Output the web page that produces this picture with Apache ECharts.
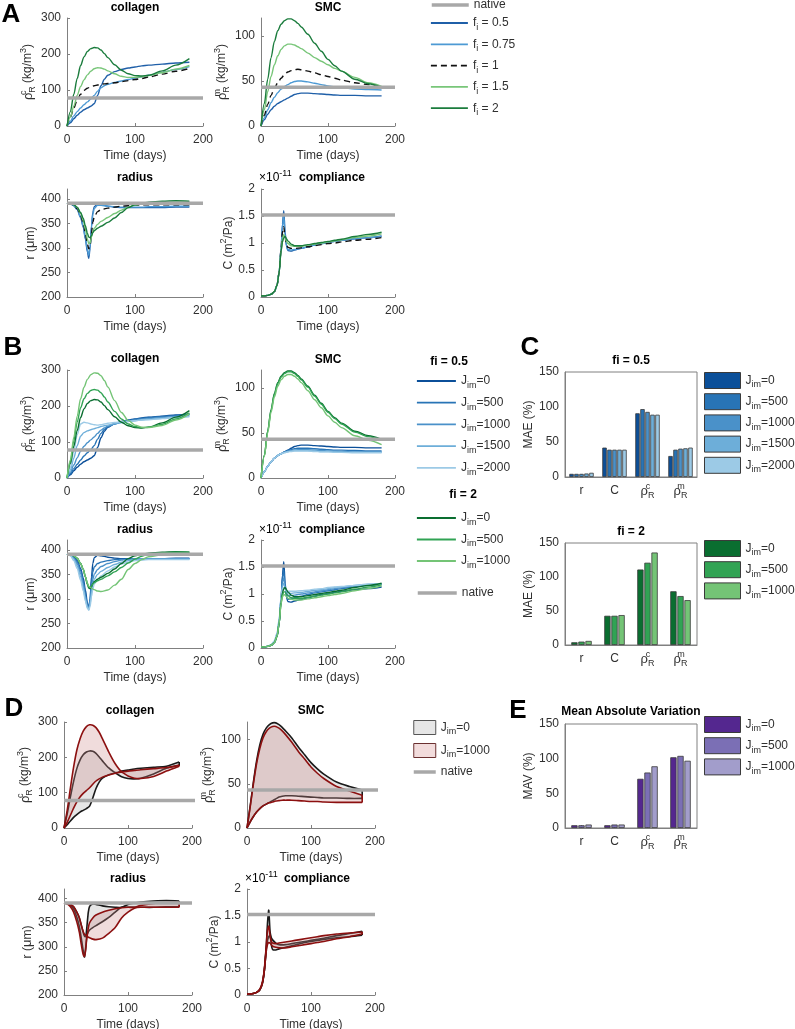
<!DOCTYPE html>
<html lang="en">
<head>
<meta charset="UTF-8">
<title>fi / Jim sensitivity</title>
<script src="https://cdn.jsdelivr.net/npm/echarts@6/dist/echarts.min.js"></script>
<style>html,body{margin:0;padding:0;background:#fff;}</style>
</head>
<body>
<div id="main" style="width:795px;height:1029px;"></div>
<script>
// ---- time bases (days) ----
var tDens = [0,5,10,15,20,25,30,35,40,45,50,55,60,70,80,90,100,110,120,140,160,180];
var tMech = [0,5,10,15,20,24,27,30,32,34,36,38,40,45,50,60,70,80,90,100,110,120,140,160,180];

// ---- native reference values ----
var nativeCol = 78, nativeSmc = 43, nativeRad = 391, nativeCmp = 1.52;

// ---- A: f_i sweep (collagen, SMC on tDens; radius, compliance on tMech) ----
var colA_05  = [0,9,20,30,38,45,50,55,62,85,112,130,141,151,157,161,164,167,169,172,175,177];
var colA_075 = [0,13,28,40,50,59,67,75,85,97,106,112,116,121,125,129,133,137,141,149,157,165];
var colA_1   = [0,25,50,72,88,99,105,109,112,114,116,117,118,120,123,126,129,132,136,144,152,160];
var colA_15  = [0,25,55,85,110,128,142,152,159,162,161,158,153,145,138,135,135,137,140,148,158,168];
var colA_2   = [0,40,88,132,168,192,207,215,218,217,211,201,190,170,155,145,140,139,141,153,169,187];

var smcA_05  = [0,7,13,18,22,25,27,29,31,33,35,36,36.5,36.5,36,35.5,35,34.5,34,34,33.5,33.5];
var smcA_075 = [0,9,18,26,32,37,41,44,46,48,49.5,50,50,49,47.5,46,44.5,43.5,42.5,41,40.5,40];
var smcA_1   = [0,12,24,34,42,48,53,57,60,61.5,62.5,63,62.5,61,59,57,55,53,51,48,46,44];
var smcA_15  = [0,18,38,55,68,78,85,89,91,91,90,88,86,81,76,72,68,64,61,54,48,44];
var smcA_2   = [0,25,52,76,94,106,113,117,119,119,117,114,110,102,92,83,74,67,61,52,47,43];

var radA_05  = [391,390,386,378,362,342,318,292,279,300,345,372,384,389,388,385,383,382,382,382,382,382,382,383,383];
var radA_075 = [391,390,386,378,363,344,321,297,285,303,342,368,380,387,387,385,384,383,383,383,383,384,384,385,385];
var radA_1   = [391,390,387,380,366,350,330,308,298,305,330,352,363,374,378,381,383,385,386,387,388,388,388,388,388];
var radA_15  = [391,390,388,382,370,356,338,318,309,310,322,333,340,348,354,362,370,377,383,387,390,391,392,393,393];
var radA_2   = [391,390,388,383,372,360,345,330,322,321,325,331,335,340,344,352,361,372,382,388,391,393,395,396,395];

var cmpA_05  = [0.02,0.02,0.03,0.05,0.1,0.22,0.45,0.9,1.35,1.6,1.2,0.95,0.86,0.85,0.87,0.9,0.93,0.96,0.99,1.01,1.03,1.05,1.08,1.1,1.13];
var cmpA_075 = [0.02,0.02,0.03,0.05,0.1,0.22,0.45,0.9,1.3,1.5,1.15,0.95,0.88,0.87,0.88,0.9,0.93,0.96,0.99,1.01,1.03,1.05,1.08,1.1,1.12];
var cmpA_1   = [0.02,0.02,0.03,0.05,0.1,0.22,0.45,0.88,1.2,1.3,1.1,0.97,0.92,0.9,0.9,0.91,0.93,0.95,0.97,0.99,1.0,1.02,1.05,1.07,1.1];
var cmpA_15  = [0.02,0.02,0.03,0.05,0.1,0.22,0.45,0.86,1.08,1.16,1.1,1.03,0.99,0.95,0.94,0.94,0.96,0.98,1.0,1.02,1.04,1.06,1.1,1.13,1.17];
var cmpA_2   = [0.02,0.02,0.03,0.05,0.1,0.22,0.45,0.85,1.02,1.1,1.12,1.08,1.04,0.98,0.95,0.95,0.97,0.99,1.01,1.03,1.05,1.07,1.12,1.16,1.2];

// ---- B: J_im sweep (Jim=0 curves are the fi=0.5 / fi=2 curves of A) ----
var colB_b500  = [0,12,26,38,50,61,70,79,90,108,124,135,142,150,156,160,163,166,168,171,174,177];
var colB_b1000 = [0,16,36,56,74,88,98,106,114,124,133,139,144,150,155,158,161,163,165,168,171,175];
var colB_b1500 = [0,22,55,90,116,126,131,134,137,140,143,145,147,151,154,157,159,161,163,166,169,172];
var colB_b2000 = [0,30,75,120,150,155,153,150,148,147,148,150,152,154,156,158,159,161,162,165,168,170];
var colB_g500  = [0,45,103,155,195,220,235,243,246,244,237,225,211,185,164,150,143,140,141,149,164,181];
var colB_g1000 = [0,50,113,172,220,252,274,287,292,291,284,271,253,215,182,160,147,141,140,146,161,178];

var smcB_b500  = [0,7,13,18,22,25,27,29,30.5,31.5,32.5,33,33,33,32.5,32,31.5,31,31,30.5,30,30];
var smcB_b1000 = [0,7,13,18,22,25,27,28.5,29.5,30.5,31,31.5,31.5,31.5,31,30.5,30,30,29.5,29,29,29];
var smcB_b1500 = [0,7,13,18,22,25,27,28.5,29.5,30,30.5,30.5,30.5,30.5,30,29.5,29.5,29,29,28.5,28.5,28.5];
var smcB_b2000 = [0,7,13,18,22,25,27,28,29,29.5,30,30,30,30,29.5,29,29,28.5,28.5,28,28,28];
var smcB_g500  = [0,25,52,75,93,105,112,116,118,118,116,113,109,101,91,82,73,66,60,51,46,42];
var smcB_g1000 = [0,24,50,73,90,102,109,113,115,115,113,110,106,97,87,78,69,62,56,47,42,37];

var radB_b500  = [391,390,385,376,358,336,310,287,280,300,335,355,365,372,375,378,380,381,381,382,382,382,382,382,382];
var radB_b1000 = [391,389,383,372,352,330,305,284,280,295,322,340,350,360,366,372,376,379,381,382,382,382,382,382,382];
var radB_b1500 = [391,389,381,367,345,322,300,283,279,290,312,330,340,350,356,364,370,375,378,380,381,381,381,381,381];
var radB_b2000 = [391,388,378,362,338,316,296,281,277,285,305,320,330,340,347,357,365,371,375,378,379,380,380,380,380];
var radB_g500  = [391,390,388,383,372,360,345,331,324,323,326,330,333,337,340,347,355,364,373,381,387,391,394,395,395];
var radB_g1000 = [391,390,388,383,372,360,345,332,326,324,322,320,319,316,315,318,328,340,360,372,380,386,390,392,392];

var cmpB_b500  = [0.02,0.02,0.03,0.05,0.1,0.22,0.45,0.9,1.3,1.45,1.15,0.97,0.9,0.91,0.93,0.96,0.99,1.02,1.04,1.06,1.08,1.1,1.13,1.16,1.18];
var cmpB_b1000 = [0.02,0.02,0.03,0.05,0.11,0.24,0.48,0.92,1.22,1.3,1.12,1.02,0.98,0.97,0.98,1.0,1.02,1.04,1.06,1.08,1.1,1.12,1.15,1.17,1.19];
var cmpB_b1500 = [0.02,0.02,0.03,0.06,0.12,0.26,0.5,0.93,1.15,1.2,1.1,1.05,1.02,1.01,1.02,1.03,1.05,1.07,1.08,1.1,1.12,1.13,1.16,1.18,1.19];
var cmpB_b2000 = [0.02,0.02,0.03,0.06,0.13,0.28,0.53,0.95,1.1,1.12,1.08,1.06,1.05,1.05,1.05,1.06,1.07,1.09,1.1,1.12,1.13,1.14,1.16,1.18,1.19];
var cmpB_g500  = [0.02,0.02,0.03,0.05,0.1,0.22,0.45,0.84,0.98,1.04,1.04,1.0,0.97,0.93,0.92,0.92,0.94,0.96,0.98,1.0,1.02,1.04,1.09,1.13,1.17];
var cmpB_g1000 = [0.02,0.02,0.03,0.05,0.1,0.22,0.45,0.82,0.95,0.99,0.98,0.95,0.92,0.9,0.89,0.89,0.91,0.93,0.95,0.97,0.99,1.01,1.06,1.1,1.15];

// ---- C / E: bar values (r, C, rho_c, rho_m) ----
var barCats = ['r', 'C', 'rhoc', 'rhom'];
var mae05_j0    = [4.5, 42, 91, 30];
var mae05_j500  = [4.5, 39, 97, 39];
var mae05_j1000 = [4.5, 39, 93, 40.5];
var mae05_j1500 = [5, 39, 89, 41];
var mae05_j2000 = [6, 39, 89, 42];
var mae2_j0     = [4, 43, 111, 79];
var mae2_j500   = [5, 43, 121, 72];
var mae2_j1000  = [6, 44, 136, 66];
var mav_j0      = [4, 4, 71, 102];
var mav_j500    = [4, 5, 80, 104];
var mav_j1000   = [5, 5, 89, 97];

// ---- styling ----
var FONT = 'Liberation Sans';
var FCSS = '"Liberation Sans", Arial, sans-serif';
var AX = '#808080', TXT = '#303030', NAT = '#a8a8a8';
var BLUES = ['#0b4f99', '#2874b6', '#4a91c9', '#6daed9', '#9ccae6'];
var GREENS = ['#0a6e30', '#31a354', '#74c476'];
var PURP = ['#54278f', '#7b6fb5', '#a29dcb'];

var RICH = {
  n: {fontFamily: FONT, fontSize: 12, color: TXT, lineHeight: 18},
  g: {fontFamily: FONT, fontSize: 13, color: TXT, lineHeight: 18},
  s: {fontFamily: FONT, fontSize: 9, color: TXT, lineHeight: 10, verticalAlign: 'bottom'},
  p: {fontFamily: FONT, fontSize: 9, color: TXT, lineHeight: 10, verticalAlign: 'top'},
  p0: {fontFamily: FONT, fontSize: 9, color: TXT, lineHeight: 10, verticalAlign: 'top', width: 0}
};

var legendText = {
  'native': '{n|native}',
  A05: '{n|f}{s|i}{n| = 0.5}', A075: '{n|f}{s|i}{n| = 0.75}', A1: '{n|f}{s|i}{n| = 1}',
  A15: '{n|f}{s|i}{n| = 1.5}', A2: '{n|f}{s|i}{n| = 2}',
  B0: '{n|J}{s|im}{n|=0}', B500: '{n|J}{s|im}{n|=500}', B1000: '{n|J}{s|im}{n|=1000}',
  B1500: '{n|J}{s|im}{n|=1500}', B2000: '{n|J}{s|im}{n|=2000}',
  G0: '{n|J}{s|im}{n|=0}', G500: '{n|J}{s|im}{n|=500}', G1000: '{n|J}{s|im}{n|=1000}',
  C0: '{n|J}{s|im}{n|=0}', C500: '{n|J}{s|im}{n|=500}', C1000: '{n|J}{s|im}{n|=1000}',
  C1500: '{n|J}{s|im}{n|=1500}', C2000: '{n|J}{s|im}{n|=2000}',
  CG0: '{n|J}{s|im}{n|=0}', CG500: '{n|J}{s|im}{n|=500}', CG1000: '{n|J}{s|im}{n|=1000}',
  D0: '{n|J}{s|im}{n|=0}', D1000: '{n|J}{s|im}{n|=1000}',
  E0: '{n|J}{s|im}{n|=0}', E500: '{n|J}{s|im}{n|=500}', E1000: '{n|J}{s|im}{n|=1000}'
};
var catText = {r: '{n|r}', C: '{n|C}', rhoc: '{g|ρ}{p0|c}{s|R}', rhom: '{g|ρ}{p0|m}{s|R}'};

var yNames = {
  col: '{g|ρ}{p0|c}{s|R}{n| (kg/m}{p|3}{n|)}',
  smc: '{g|ρ}{p0|m}{s|R}{n| (kg/m}{p|3}{n|)}',
  rad: '{n|r (}{g|μ}{n|m)}',
  cmp: '{n|C (m}{p|2}{n|/Pa)}'
};
var yRange = {
  col: [0, 300, 100, 26], smc: [0, 120, 50, 27], rad: [200, 420, 50, 22], cmp: [0, 2, 0.5, 22]
};

// ---- layout ----
var grids = [
  {left: 67, top: 18, width: 136, height: 108},
  {left: 261, top: 18, width: 134, height: 108},
  {left: 67, top: 189, width: 136, height: 108},
  {left: 261, top: 189, width: 134, height: 108},
  {left: 67, top: 370, width: 136, height: 108},
  {left: 261, top: 370, width: 134, height: 108},
  {left: 67, top: 540, width: 136, height: 108},
  {left: 261, top: 540, width: 134, height: 108},
  {left: 565, top: 372, width: 132, height: 105},
  {left: 565, top: 543, width: 132, height: 102},
  {left: 64, top: 722, width: 128, height: 106},
  {left: 247, top: 722, width: 128, height: 106},
  {left: 64, top: 889, width: 128, height: 106},
  {left: 247, top: 889, width: 128, height: 106},
  {left: 565, top: 724, width: 132, height: 104}
];
var kinds = ['col', 'smc', 'rad', 'cmp', 'col', 'smc', 'rad', 'cmp', 'bar', 'bar', 'col', 'smc', 'rad', 'cmp', 'bar'];
var barYName = {8: 'MAE (%)', 9: 'MAE (%)', 14: 'MAV (%)'};

grids.forEach(function (g, i) {
  g.outerBoundsMode = 'none';
  g.containLabel = false;
  if (kinds[i] === 'bar') { g.show = true; g.borderColor = AX; g.borderWidth = 1; }
});

var xAxes = [], yAxes = [];
kinds.forEach(function (k, i) {
  var line = {lineStyle: {color: AX, width: 1}};
  var tick = {inside: true, length: 3, lineStyle: {color: AX}};
  if (k === 'bar') {
    xAxes.push({type: 'category', gridIndex: i, data: barCats, axisLine: line,
      axisTick: {show: true, inside: true, length: 3, alignWithLabel: true, lineStyle: {color: AX}},
      axisLabel: {interval: 0, margin: 5, formatter: function (v) { return catText[v]; }, rich: RICH}});
    yAxes.push({type: 'value', gridIndex: i, min: 0, max: 150, interval: 50, splitLine: {show: false},
      axisLine: {show: true, lineStyle: {color: AX}}, axisTick: tick,
      axisLabel: {fontFamily: FONT, fontSize: 12, color: TXT, margin: 6},
      name: barYName[i], nameLocation: 'middle', nameGap: 27,
      nameTextStyle: {fontFamily: FONT, fontSize: 12, color: TXT}});
    return;
  }
  var r = yRange[k];
  xAxes.push({type: 'value', gridIndex: i, min: 0, max: 200, interval: 100, splitLine: {show: false},
    axisLine: line, axisTick: tick,
    axisLabel: {fontFamily: FONT, fontSize: 12, color: TXT, margin: 8},
    name: 'Time (days)', nameLocation: 'middle', nameGap: 24,
    nameTextStyle: {fontFamily: FONT, fontSize: 12, color: TXT}});
  yAxes.push({type: 'value', gridIndex: i, min: r[0], max: r[1], interval: r[2], splitLine: {show: false},
    axisLine: {show: true, lineStyle: {color: AX, width: 1}}, axisTick: tick,
    axisLabel: {fontFamily: FONT, fontSize: 12, color: TXT, margin: 6, showMaxLabel: (k === 'col' || k === 'cmp')},
    name: yNames[k], nameLocation: 'middle', nameGap: r[3],
    nameTextStyle: {rich: RICH}});
});

// ---- series ----
var series = [];
function pairs(t, v) { return t.map(function (x, i) { return [x, v[i]]; }); }
function addNative(gi, v, end) {
  series.push({type: 'line', name: 'native', xAxisIndex: gi, yAxisIndex: gi, data: [[0, v], [end || 200, v]],
    symbol: 'none', clip: !end, z: 3, silent: true, lineStyle: {color: NAT, width: 3.5}, itemStyle: {color: NAT}});
}
function addLines(gi, t, list, nativeVal) {
  list.forEach(function (l) {
    series.push({type: 'line', name: l[0], xAxisIndex: gi, yAxisIndex: gi, data: pairs(t, l[1]),
      symbol: 'none', smooth: 0.3, smoothMonotone: 'x', silent: true,
      lineStyle: {color: l[2], width: 1.4, type: l[3] || 'solid'}, itemStyle: {color: l[2]}});
  });
  addNative(gi, nativeVal);
}
function aSet(a, b, c, d, e) {
  return [['A05', a, '#1f5fa8'], ['A075', b, '#4d9ad4'], ['A1', c, '#111111', [6, 4]],
          ['A15', d, '#78c679'], ['A2', e, '#1b7c3d']];
}
function bSet(b0, b500, b1000, b1500, b2000, g0, g500, g1000) {
  return [['B0', b0, BLUES[0]], ['B500', b500, BLUES[1]], ['B1000', b1000, BLUES[2]],
          ['B1500', b1500, BLUES[3]], ['B2000', b2000, BLUES[4]],
          ['G0', g0, GREENS[0]], ['G500', g500, GREENS[1]], ['G1000', g1000, GREENS[2]]];
}

addLines(0, tDens, aSet(colA_05, colA_075, colA_1, colA_15, colA_2), nativeCol);
addLines(1, tDens, aSet(smcA_05, smcA_075, smcA_1, smcA_15, smcA_2), nativeSmc);
addLines(2, tMech, aSet(radA_05, radA_075, radA_1, radA_15, radA_2), nativeRad);
addLines(3, tMech, aSet(cmpA_05, cmpA_075, cmpA_1, cmpA_15, cmpA_2), nativeCmp);

addLines(4, tDens, bSet(colA_05, colB_b500, colB_b1000, colB_b1500, colB_b2000, colA_2, colB_g500, colB_g1000), nativeCol);
addLines(5, tDens, bSet(smcA_05, smcB_b500, smcB_b1000, smcB_b1500, smcB_b2000, smcA_2, smcB_g500, smcB_g1000), nativeSmc);
addLines(6, tMech, bSet(radA_05, radB_b500, radB_b1000, radB_b1500, radB_b2000, radA_2, radB_g500, radB_g1000), nativeRad);
addLines(7, tMech, bSet(cmpA_05, cmpB_b500, cmpB_b1000, cmpB_b1500, cmpB_b2000, cmpA_2, cmpB_g500, cmpB_g1000), nativeCmp);

// D: envelope between the fi=0.5 and fi=2 runs of one Jim, drawn through the grid's axes
function addBand(gi, t, name, a, b, lineColor, fill) {
  var lo = a.map(function (v, i) { return Math.min(v, b[i]); });
  var hi = a.map(function (v, i) { return Math.max(v, b[i]); });
  series.push({type: 'custom', name: name, xAxisIndex: gi, yAxisIndex: gi, coordinateSystem: 'cartesian2d',
    data: [[t[0], lo[0]]], silent: true, itemStyle: {color: fill},
    renderItem: function (params, api) {
      var up = t.map(function (x, i) { return api.coord([x, hi[i]]); });
      var dn = t.map(function (x, i) { return api.coord([x, lo[i]]); });
      return {type: 'group', children: [
        {type: 'polygon', shape: {points: up.concat(dn.slice().reverse()), smooth: 0.25}, style: {fill: fill, stroke: null}},
        {type: 'polyline', shape: {points: dn, smooth: 0.25}, style: {stroke: lineColor, lineWidth: 1.6, fill: null}},
        {type: 'polyline', shape: {points: up, smooth: 0.25}, style: {stroke: lineColor, lineWidth: 1.6, fill: null}},
        {type: 'line', shape: {x1: up[up.length - 1][0], y1: up[up.length - 1][1], x2: dn[dn.length - 1][0], y2: dn[dn.length - 1][1]},
          style: {stroke: lineColor, lineWidth: 1.6}}
      ]};
    }});
}
var FILL0 = 'rgba(200,200,200,0.45)', FILL1 = 'rgba(205,140,140,0.3)';
var BLK = '#1a1a1a', RED = '#8c1010';
[[10, tDens, colA_05, colA_2, colB_b1000, colB_g1000, nativeCol, 210],
 [11, tDens, smcA_05, smcA_2, smcB_b1000, smcB_g1000, nativeSmc, 210],
 [12, tMech, radA_05, radA_2, radB_b1000, radB_g1000, nativeRad, 0],
 [13, tMech, cmpA_05, cmpA_2, cmpB_b1000, cmpB_g1000, nativeCmp, 0]].forEach(function (d) {
  addBand(d[0], d[1], 'D0', d[2], d[3], BLK, FILL0);
  addBand(d[0], d[1], 'D1000', d[4], d[5], RED, FILL1);
  addNative(d[0], d[6], d[7] || 0);
});

function addBars(gi, list, catGap) {
  list.forEach(function (b) {
    series.push({type: 'bar', name: b[0], xAxisIndex: gi, yAxisIndex: gi, data: b[1],
      barGap: '12%', barCategoryGap: catGap, silent: true,
      itemStyle: {color: b[2], borderColor: '#3a3a3a', borderWidth: 0.8}});
  });
}
addBars(8, [['C0', mae05_j0, BLUES[0]], ['C500', mae05_j500, BLUES[1]], ['C1000', mae05_j1000, BLUES[2]],
            ['C1500', mae05_j1500, BLUES[3]], ['C2000', mae05_j2000, BLUES[4]]], '26%');
addBars(9, [['CG0', mae2_j0, GREENS[0]], ['CG500', mae2_j500, GREENS[1]], ['CG1000', mae2_j1000, GREENS[2]]], '38%');
addBars(14, [['E0', mav_j0, PURP[0]], ['E500', mav_j500, PURP[1]], ['E1000', mav_j1000, PURP[2]]], '38%');

// ---- legends ----
function legend(data, left, top, w, h, gap, extra) {
  var l = {data: data, left: left, top: top, orient: 'vertical', padding: 0, itemGap: gap,
    itemWidth: w, itemHeight: h, selectedMode: false,
    formatter: function (name) { return legendText[name]; },
    textStyle: {rich: RICH}};
  if (extra) { for (var k in extra) { l[k] = extra[k]; } }
  return l;
}
function boxItem(name, color, border) {
  return {name: name, icon: 'rect', itemStyle: {color: color, borderColor: border, borderWidth: 1, opacity: 1}};
}
var lineLeg = {itemStyle: {opacity: 0}, lineStyle: {width: 1.8}};
var natLeg = {itemStyle: {opacity: 0}, lineStyle: {width: 3.5}};
var legends = [
  legend(['native'], 430, -1, 37, 12, 3, natLeg),
  legend(['A05', 'A075', 'A1', 'A15', 'A2'], 430, 17, 37, 12, 6.3, lineLeg),
  legend(['B0', 'B500', 'B1000', 'B1500', 'B2000'], 416, 375, 39, 12, 6.7, lineLeg),
  legend(['G0', 'G500', 'G1000'], 416, 512, 39, 12, 6.5, lineLeg),
  legend(['native'], 416, 587, 39, 12, 3, natLeg),
  legend([boxItem('C0', BLUES[0], '#3a3a3a'), boxItem('C500', BLUES[1], '#3a3a3a'), boxItem('C1000', BLUES[2], '#3a3a3a'),
          boxItem('C1500', BLUES[3], '#3a3a3a'), boxItem('C2000', BLUES[4], '#3a3a3a')], 704, 372, 36, 16, 3.7),
  legend([boxItem('CG0', GREENS[0], '#3a3a3a'), boxItem('CG500', GREENS[1], '#3a3a3a'), boxItem('CG1000', GREENS[2], '#3a3a3a')], 704, 540, 36, 16, 3.7),
  legend([boxItem('D0', '#e6e6e6', '#555555'), boxItem('D1000', '#f2dcdc', '#6b3030'),
          {name: 'native', itemStyle: {opacity: 0}, lineStyle: {width: 3.5}}], 412, 720, 22, 14, 6.5),
  legend([boxItem('E0', PURP[0], '#3a3a3a'), boxItem('E500', PURP[1], '#3a3a3a'), boxItem('E1000', PURP[2], '#3a3a3a')], 704, 716, 36, 16, 3.7)
];

// ---- text: panel letters, titles, headers ----
function gtext(x, y, text, size, bold, align) {
  return {type: 'text', x: x, y: y, silent: true, z: 10,
    style: {text: text, fill: '#000', font: (bold ? 'bold ' : '') + size + 'px ' + FCSS,
      align: align || 'center', verticalAlign: 'middle', rich: RICH}};
}
var expLabel = '{n|×10}{p|-11}';
var graphics = [
  gtext(11, 15, 'A', 26, true), gtext(13, 348, 'B', 26, true), gtext(530, 348, 'C', 26, true),
  gtext(14, 709, 'D', 26, true), gtext(518, 711, 'E', 26, true),
  gtext(135, 8, 'collagen', 12, true), gtext(328, 8, 'SMC', 12, true),
  gtext(135, 178, 'radius', 12, true), gtext(332, 178, 'compliance', 12, true),
  gtext(135, 359, 'collagen', 12, true), gtext(328, 360, 'SMC', 12, true),
  gtext(135, 530, 'radius', 12, true), gtext(332, 530, 'compliance', 12, true),
  gtext(130, 711, 'collagen', 12, true), gtext(311, 711, 'SMC', 12, true),
  gtext(128, 879, 'radius', 12, true), gtext(317, 879, 'compliance', 12, true),
  gtext(259, 178, expLabel, 12, false, 'left'), gtext(259, 530, expLabel, 12, false, 'left'),
  gtext(245, 879, expLabel, 12, false, 'left'),
  gtext(449, 362, 'fi = 0.5', 12, true), gtext(463, 495, 'fi = 2', 12, true),
  gtext(631, 361, 'fi = 0.5', 12, true), gtext(631, 532, 'fi = 2', 12, true),
  gtext(631, 712, 'Mean Absolute Variation', 12, true)
];

var chart = echarts.init(document.getElementById('main'), null, {renderer: 'canvas'});
chart.setOption({
  animation: false,
  backgroundColor: '#ffffff',
  textStyle: {fontFamily: FONT},
  grid: grids,
  xAxis: xAxes,
  yAxis: yAxes,
  legend: legends,
  graphic: graphics,
  series: series
});
</script>
</body>
</html>
